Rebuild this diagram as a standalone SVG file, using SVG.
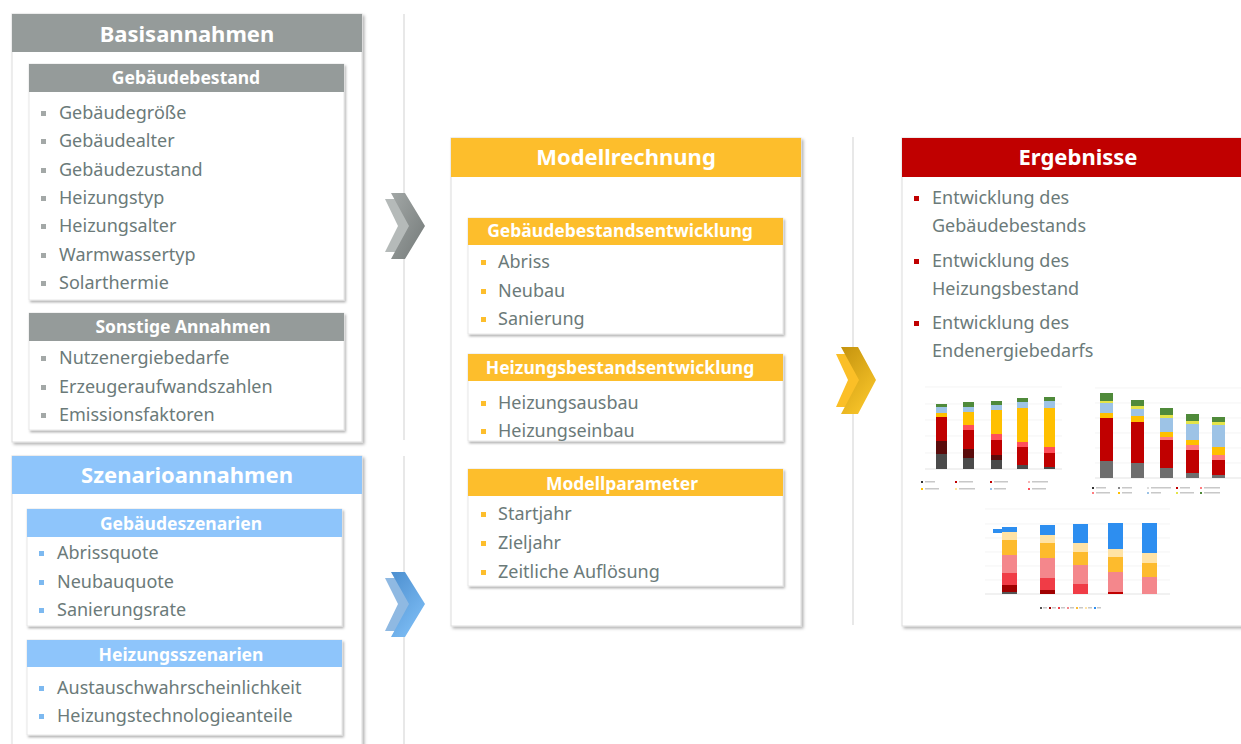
<svg xmlns="http://www.w3.org/2000/svg" width="1241" height="744" viewBox="0 0 1241 744">
<defs>
<style>
.panel{fill:#fff;stroke:#dcdcdc;stroke-width:1;filter:url(#sh)}
.sub{fill:#fff;stroke:#e2e2e2;stroke-width:0.8;filter:url(#sh2)}
.h1{font-family:"Noto Sans","Liberation Sans",sans-serif;font-weight:bold;font-size:22px;fill:#fff;text-anchor:middle}
.h2{font-family:"Noto Sans","Liberation Sans",sans-serif;font-weight:bold;font-size:17.5px;fill:#fff;text-anchor:middle}
.it{font-family:"Noto Sans","Liberation Sans",sans-serif;font-size:18px;fill:#6b7a79}
.grey{fill:#959b9a}.blue{fill:#8ec5fb}.yel{fill:#fdbe2c}.red{fill:#c00000}
.bg{fill:#a3a8a7}.bb{fill:#7db9f0}.by{fill:#fdbe2c}.br{fill:#c00000}
.sep{stroke:#e0e0e0;stroke-width:1.5}
.grid{stroke:#ececec;stroke-width:0.6}
</style>
<filter id="sh" x="-5%" y="-5%" width="112%" height="112%"><feDropShadow dx="2" dy="2" stdDeviation="1.5" flood-color="#000" flood-opacity="0.3"/></filter>
<filter id="sh2" x="-5%" y="-5%" width="112%" height="115%"><feDropShadow dx="1.5" dy="2" stdDeviation="1.2" flood-color="#000" flood-opacity="0.3"/></filter>
<linearGradient id="gG" x1="0" y1="0" x2="1" y2="1"><stop offset="0" stop-color="#a2a7a6"/><stop offset="1" stop-color="#747a79"/></linearGradient>
<linearGradient id="gB" x1="0" y1="0" x2="0.6" y2="1"><stop offset="0" stop-color="#4d8fcf"/><stop offset="1" stop-color="#7cbcf4"/></linearGradient>
<linearGradient id="gY" x1="0" y1="0" x2="0.6" y2="1"><stop offset="0" stop-color="#c4930e"/><stop offset="1" stop-color="#f8c429"/></linearGradient>
</defs>

<g id="separators">
<line class="sep" x1="404" y1="14" x2="404" y2="440"/>
<line class="sep" x1="404" y1="456" x2="404" y2="744"/>
<line class="sep" x1="853" y1="137" x2="853" y2="625"/>
</g>

<g id="connectors">
<path d="M385,199 L399,199 L417,226 L399,252 L385,252 L398,226 Z" fill="#b5bab9"/>
<path d="M391,193 L405,193 L425,226 L405,259 L391,259 L409,226 Z" fill="url(#gG)"/>
<path d="M385,578 L399,578 L417,604 L399,631 L385,631 L398,604 Z" fill="#8fb9e2"/>
<path d="M391,572 L405,572 L425,604 L405,637 L391,637 L409,604 Z" fill="url(#gB)"/>
<path d="M836,354 L850,354 L868,380 L850,407 L836,407 L848,380 Z" fill="#fbbf27"/>
<path d="M841,347 L858,347 L876,380 L858,414 L841,414 L859,380 Z" fill="url(#gY)"/>
</g>

<g id="basisannahmen">
<rect class="panel" x="12" y="14" width="350" height="428"/>
<rect class="grey" x="12" y="14" width="350" height="38"/>
<text class="h1" x="187" y="42">Basisannahmen</text>
</g>
<g id="gebaeudebestand">
<rect class="sub" x="29" y="64" width="315" height="236"/>
<rect class="grey" x="29" y="64" width="315" height="28"/>
<text class="h2" x="186" y="84">Gebäudebestand</text>
<g class="bg"><rect x="41" y="111" width="5" height="5"/><rect x="41" y="139" width="5" height="5"/><rect x="41" y="168" width="5" height="5"/><rect x="41" y="196" width="5" height="5"/><rect x="41" y="224" width="5" height="5"/><rect x="41" y="253" width="5" height="5"/><rect x="41" y="281" width="5" height="5"/></g>
<text class="it" x="59" y="119">Gebäudegröße</text>
<text class="it" x="59" y="147">Gebäudealter</text>
<text class="it" x="59" y="176">Gebäudezustand</text>
<text class="it" x="59" y="204">Heizungstyp</text>
<text class="it" x="59" y="232">Heizungsalter</text>
<text class="it" x="59" y="261">Warmwassertyp</text>
<text class="it" x="59" y="289">Solarthermie</text>
</g>
<g id="sonstige">
<rect class="sub" x="29" y="313" width="315" height="117"/>
<rect class="grey" x="29" y="313" width="315" height="28"/>
<text class="h2" x="183" y="333">Sonstige Annahmen</text>
<g class="bg"><rect x="41" y="356" width="5" height="5"/><rect x="41" y="385" width="5" height="5"/><rect x="41" y="413" width="5" height="5"/></g>
<text class="it" x="59" y="364">Nutzenergiebedarfe</text>
<text class="it" x="59" y="393">Erzeugeraufwandszahlen</text>
<text class="it" x="59" y="421">Emissionsfaktoren</text>
</g>

<g id="szenarioannahmen">
<rect class="panel" x="12" y="456" width="350" height="300"/>
<rect class="blue" x="12" y="456" width="350" height="38"/>
<text class="h1" x="187" y="483">Szenarioannahmen</text>
</g>
<g id="gebaeudeszenarien">
<rect class="sub" x="27" y="509" width="315" height="117"/>
<rect class="blue" x="27" y="509" width="315" height="28"/>
<text class="h2" x="181" y="530">Gebäudeszenarien</text>
<g class="bb"><rect x="39" y="551" width="5" height="5"/><rect x="39" y="580" width="5" height="5"/><rect x="39" y="608" width="5" height="5"/></g>
<text class="it" x="57" y="559">Abrissquote</text>
<text class="it" x="57" y="588">Neubauquote</text>
<text class="it" x="57" y="616">Sanierungsrate</text>
</g>
<g id="heizungsszenarien">
<rect class="sub" x="27" y="640" width="315" height="95"/>
<rect class="blue" x="27" y="640" width="315" height="27"/>
<text class="h2" x="181" y="661">Heizungsszenarien</text>
<g class="bb"><rect x="39" y="686" width="5" height="5"/><rect x="39" y="714" width="5" height="5"/></g>
<text class="it" x="57" y="694">Austauschwahrscheinlichkeit</text>
<text class="it" x="57" y="722">Heizungstechnologieanteile</text>
</g>

<g id="modellrechnung">
<rect class="panel" x="451" y="138" width="350" height="488"/>
<rect class="yel" x="451" y="138" width="350" height="39"/>
<text class="h1" x="626" y="165">Modellrechnung</text>
</g>
<g id="gebaeudebestandsentwicklung">
<rect class="sub" x="468" y="218" width="315" height="116"/>
<rect class="yel" x="468" y="218" width="315" height="27"/>
<text class="h2" x="620" y="237">Gebäudebestandsentwicklung</text>
<g class="by"><rect x="481" y="260" width="5" height="5"/><rect x="481" y="289" width="5" height="5"/><rect x="481" y="317" width="5" height="5"/></g>
<text class="it" x="498" y="268">Abriss</text>
<text class="it" x="498" y="297">Neubau</text>
<text class="it" x="498" y="325">Sanierung</text>
</g>
<g id="heizungsbestandsentwicklung">
<rect class="sub" x="468" y="354" width="315" height="87"/>
<rect class="yel" x="468" y="354" width="315" height="27"/>
<text class="h2" x="620" y="374">Heizungsbestandsentwicklung</text>
<g class="by"><rect x="481" y="401" width="5" height="5"/><rect x="481" y="429" width="5" height="5"/></g>
<text class="it" x="498" y="409">Heizungsausbau</text>
<text class="it" x="498" y="437">Heizungseinbau</text>
</g>
<g id="modellparameter">
<rect class="sub" x="468" y="469" width="315" height="117"/>
<rect class="yel" x="468" y="469" width="315" height="27"/>
<text class="h2" x="622" y="490">Modellparameter</text>
<g class="by"><rect x="481" y="512" width="5" height="5"/><rect x="481" y="541" width="5" height="5"/><rect x="481" y="570" width="5" height="5"/></g>
<text class="it" x="498" y="520">Startjahr</text>
<text class="it" x="498" y="549">Zieljahr</text>
<text class="it" x="498" y="578">Zeitliche Auflösung</text>
</g>

<g id="ergebnisse">
<rect class="panel" x="902" y="138" width="360" height="488"/>
<rect class="red" x="902" y="138" width="360" height="39"/>
<text class="h1" x="1078" y="165">Ergebnisse</text>
<g class="br"><rect x="914" y="196" width="5" height="5"/><rect x="914" y="259" width="5" height="5"/><rect x="914" y="321" width="5" height="5"/></g>
<text class="it" x="932" y="204">Entwicklung des</text>
<text class="it" x="932" y="232">Gebäudebestands</text>
<text class="it" x="932" y="267">Entwicklung des</text>
<text class="it" x="932" y="295">Heizungsbestand</text>
<text class="it" x="932" y="329">Entwicklung des</text>
<text class="it" x="932" y="357">Endenergiebedarfs</text>

<g id="chart1">
<g class="grid"><line x1="925" y1="387" x2="1062" y2="387"/><line x1="925" y1="404" x2="1062" y2="404"/><line x1="925" y1="420" x2="1062" y2="420"/><line x1="925" y1="436" x2="1062" y2="436"/><line x1="925" y1="453" x2="1062" y2="453"/><line x1="925" y1="469" x2="1062" y2="469" stroke="#d0d0d0"/></g>
<rect x="936" y="454" width="11" height="15" fill="#4a4a4a"/><rect x="936" y="441" width="11" height="13" fill="#5a0b0b"/><rect x="936" y="417" width="11" height="24" fill="#c00000"/><rect x="936" y="413" width="11" height="4" fill="#ffc000"/><rect x="936" y="407" width="11" height="6" fill="#9dc3e6"/><rect x="936" y="404" width="11" height="3" fill="#4f8a3a"/>
<rect x="963" y="458" width="11" height="11" fill="#4a4a4a"/><rect x="963" y="449" width="11" height="9" fill="#5a0b0b"/><rect x="963" y="430" width="11" height="19" fill="#c00000"/><rect x="963" y="425" width="11" height="5" fill="#ff4f5a"/><rect x="963" y="412" width="11" height="13" fill="#ffc000"/><rect x="963" y="407" width="11" height="5" fill="#9dc3e6"/><rect x="963" y="402" width="11" height="5" fill="#4f8a3a"/>
<rect x="991" y="460" width="11" height="9" fill="#4a4a4a"/><rect x="991" y="455" width="11" height="5" fill="#5a0b0b"/><rect x="991" y="440" width="11" height="15" fill="#c00000"/><rect x="991" y="434" width="11" height="6" fill="#ff4f5a"/><rect x="991" y="410" width="11" height="24" fill="#ffc000"/><rect x="991" y="405" width="11" height="5" fill="#9dc3e6"/><rect x="991" y="401" width="11" height="4" fill="#4f8a3a"/>
<rect x="1017" y="465" width="11" height="4" fill="#4a4a4a"/><rect x="1017" y="447" width="11" height="18" fill="#c00000"/><rect x="1017" y="442" width="11" height="5" fill="#ff4f5a"/><rect x="1017" y="408" width="11" height="34" fill="#ffc000"/><rect x="1017" y="402" width="11" height="6" fill="#9dc3e6"/><rect x="1017" y="398" width="11" height="4" fill="#4f8a3a"/>
<rect x="1044" y="467" width="11" height="2" fill="#4a4a4a"/><rect x="1044" y="453" width="11" height="14" fill="#c00000"/><rect x="1044" y="447" width="11" height="6" fill="#ff4f5a"/><rect x="1044" y="408" width="11" height="39" fill="#ffc000"/><rect x="1044" y="401" width="11" height="7" fill="#9dc3e6"/><rect x="1044" y="397" width="11" height="4" fill="#4f8a3a"/>
<g fill="#c8c8c8"><rect x="921" y="481" width="2" height="2" fill="#333"/><rect x="925" y="481" width="10" height="1.5"/><rect x="955" y="481" width="2" height="2" fill="#c00000"/><rect x="959" y="481" width="14" height="1.5"/><rect x="990" y="481" width="2" height="2" fill="#c00000"/><rect x="994" y="481" width="14" height="1.5"/><rect x="1028" y="481" width="2" height="2" fill="#f4b6b6"/><rect x="1032" y="481" width="16" height="1.5"/><rect x="921" y="488" width="2" height="2" fill="#ffc000"/><rect x="925" y="488" width="14" height="1.5"/><rect x="955" y="488" width="2" height="2" fill="#ffe699"/><rect x="959" y="488" width="16" height="1.5"/><rect x="990" y="488" width="2" height="2" fill="#9dc3e6"/><rect x="994" y="488" width="12" height="1.5"/><rect x="1028" y="488" width="2" height="2" fill="#ff4f5a"/><rect x="1032" y="488" width="14" height="1.5"/></g>
</g>

<g id="chart2">
<g class="grid"><line x1="1095" y1="388" x2="1241" y2="388"/><line x1="1095" y1="403" x2="1241" y2="403"/><line x1="1095" y1="418" x2="1241" y2="418"/><line x1="1095" y1="433" x2="1241" y2="433"/><line x1="1095" y1="448" x2="1241" y2="448"/><line x1="1095" y1="463" x2="1241" y2="463"/><line x1="1095" y1="478" x2="1241" y2="478" stroke="#d0d0d0"/></g>
<rect x="1100" y="461" width="13" height="17" fill="#6e6e6e"/><rect x="1100" y="418" width="13" height="43" fill="#c00000"/><rect x="1100" y="413" width="13" height="5" fill="#ffc000"/><rect x="1100" y="403" width="13" height="10" fill="#9dc3e6"/><rect x="1100" y="401" width="13" height="2" fill="#e4e44a"/><rect x="1100" y="393" width="13" height="8" fill="#4f8a3a"/>
<rect x="1131" y="463" width="13" height="15" fill="#6e6e6e"/><rect x="1131" y="422" width="13" height="41" fill="#c00000"/><rect x="1131" y="416" width="13" height="6" fill="#ffc000"/><rect x="1131" y="409" width="13" height="7" fill="#9dc3e6"/><rect x="1131" y="406" width="13" height="3" fill="#e4e44a"/><rect x="1131" y="400" width="13" height="6" fill="#4f8a3a"/>
<rect x="1160" y="468" width="13" height="10" fill="#6e6e6e"/><rect x="1160" y="440" width="13" height="28" fill="#c00000"/><rect x="1160" y="437" width="13" height="3" fill="#ff7c80"/><rect x="1160" y="432" width="13" height="5" fill="#ffc000"/><rect x="1160" y="418" width="13" height="14" fill="#9dc3e6"/><rect x="1160" y="415" width="13" height="3" fill="#e4e44a"/><rect x="1160" y="408" width="13" height="7" fill="#4f8a3a"/>
<rect x="1186" y="473" width="13" height="5" fill="#6e6e6e"/><rect x="1186" y="450" width="13" height="23" fill="#c00000"/><rect x="1186" y="445" width="13" height="5" fill="#ff7c80"/><rect x="1186" y="440" width="13" height="5" fill="#ffc000"/><rect x="1186" y="424" width="13" height="16" fill="#9dc3e6"/><rect x="1186" y="421" width="13" height="3" fill="#e4e44a"/><rect x="1186" y="414" width="13" height="7" fill="#4f8a3a"/>
<rect x="1212" y="475" width="13" height="3" fill="#6e6e6e"/><rect x="1212" y="460" width="13" height="15" fill="#c00000"/><rect x="1212" y="455" width="13" height="5" fill="#ff7c80"/><rect x="1212" y="447" width="13" height="8" fill="#ffc000"/><rect x="1212" y="425" width="13" height="22" fill="#9dc3e6"/><rect x="1212" y="422" width="13" height="3" fill="#e4e44a"/><rect x="1212" y="417" width="13" height="5" fill="#4f8a3a"/>
<g fill="#c8c8c8"><rect x="1092" y="487" width="2" height="2" fill="#333"/><rect x="1096" y="487" width="10" height="1.5"/><rect x="1118" y="487" width="2" height="2" fill="#888"/><rect x="1122" y="487" width="10" height="1.5"/><rect x="1147" y="487" width="2" height="2" fill="#ddd"/><rect x="1151" y="487" width="20" height="1.5"/><rect x="1176" y="487" width="2" height="2" fill="#c00000"/><rect x="1180" y="487" width="10" height="1.5"/><rect x="1200" y="487" width="2" height="2" fill="#ff7c80"/><rect x="1204" y="487" width="16" height="1.5"/><rect x="1092" y="492" width="2" height="2" fill="#ff7c80"/><rect x="1096" y="492" width="14" height="1.5"/><rect x="1118" y="492" width="2" height="2" fill="#ffc000"/><rect x="1122" y="492" width="10" height="1.5"/><rect x="1147" y="492" width="2" height="2" fill="#9dc3e6"/><rect x="1151" y="492" width="10" height="1.5"/><rect x="1176" y="492" width="2" height="2" fill="#e4e44a"/><rect x="1180" y="492" width="14" height="1.5"/><rect x="1200" y="492" width="2" height="2" fill="#4f8a3a"/><rect x="1204" y="492" width="16" height="1.5"/></g>
</g>

<g id="chart3">
<g class="grid"><line x1="985" y1="509" x2="1170" y2="509"/><line x1="985" y1="524" x2="1170" y2="524"/><line x1="985" y1="538" x2="1170" y2="538"/><line x1="985" y1="552" x2="1170" y2="552"/><line x1="985" y1="566" x2="1170" y2="566"/><line x1="985" y1="580" x2="1170" y2="580"/><line x1="985" y1="594" x2="1170" y2="594" stroke="#d0d0d0"/></g>
<rect x="1002" y="592" width="15" height="2" fill="#555"/><rect x="1002" y="585" width="15" height="7" fill="#a00000"/><rect x="1002" y="573" width="15" height="12" fill="#f03c46"/><rect x="1002" y="555" width="15" height="18" fill="#f4878c"/><rect x="1002" y="540" width="15" height="15" fill="#fdbb2d"/><rect x="1002" y="532" width="15" height="8" fill="#ffe3a6"/><rect x="1002" y="527" width="15" height="5" fill="#2d8ef0"/><rect x="993" y="529" width="9" height="4" fill="#2d8ef0"/>
<rect x="1040" y="590" width="15" height="4" fill="#a00000"/><rect x="1040" y="578" width="15" height="12" fill="#f03c46"/><rect x="1040" y="558" width="15" height="20" fill="#f4878c"/><rect x="1040" y="543" width="15" height="15" fill="#fdbb2d"/><rect x="1040" y="535" width="15" height="8" fill="#ffe3a6"/><rect x="1040" y="525" width="15" height="10" fill="#2d8ef0"/>
<rect x="1073" y="584" width="15" height="10" fill="#f03c46"/><rect x="1073" y="565" width="15" height="19" fill="#f4878c"/><rect x="1073" y="552" width="15" height="13" fill="#fdbb2d"/><rect x="1073" y="543" width="15" height="9" fill="#ffe3a6"/><rect x="1073" y="524" width="15" height="19" fill="#2d8ef0"/>
<rect x="1108" y="592" width="15" height="2" fill="#c00000"/><rect x="1108" y="572" width="15" height="20" fill="#f4878c"/><rect x="1108" y="557" width="15" height="15" fill="#fdbb2d"/><rect x="1108" y="549" width="15" height="8" fill="#ffe3a6"/><rect x="1108" y="523" width="15" height="26" fill="#2d8ef0"/>
<rect x="1142" y="577" width="15" height="17" fill="#f4878c"/><rect x="1142" y="563" width="15" height="14" fill="#fdbb2d"/><rect x="1142" y="553" width="15" height="10" fill="#ffe3a6"/><rect x="1142" y="523" width="15" height="30" fill="#2d8ef0"/>
<g fill="#c8c8c8"><rect x="1040" y="607" width="2" height="2" fill="#555"/><rect x="1043" y="607" width="4" height="1.5"/><rect x="1049" y="607" width="2" height="2" fill="#a00000"/><rect x="1052" y="607" width="4" height="1.5"/><rect x="1058" y="607" width="2" height="2" fill="#f03c46"/><rect x="1061" y="607" width="4" height="1.5"/><rect x="1067" y="607" width="2" height="2" fill="#f4878c"/><rect x="1070" y="607" width="4" height="1.5"/><rect x="1076" y="607" width="2" height="2" fill="#fdbb2d"/><rect x="1079" y="607" width="4" height="1.5"/><rect x="1085" y="607" width="2" height="2" fill="#ffe3a6"/><rect x="1088" y="607" width="4" height="1.5"/><rect x="1094" y="607" width="2" height="2" fill="#2d8ef0"/><rect x="1097" y="607" width="4" height="1.5"/></g>
</g>
</g>
</svg>
